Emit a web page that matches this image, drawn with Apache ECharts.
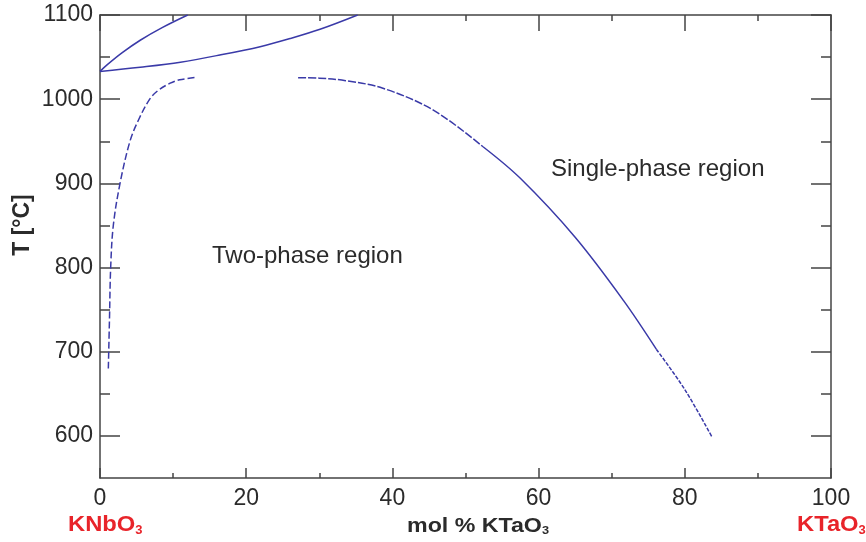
<!DOCTYPE html>
<html>
<head>
<meta charset="utf-8">
<script src="https://cdn.jsdelivr.net/npm/echarts@6/dist/echarts.min.js"></script>
<style>html,body{margin:0;padding:0;background:#fff}#c{width:866px;height:542px}</style>
</head>
<body>
<div id="c"></div>
<script>
// mol % KTaO3 vs temperature (°C)
var upperSolidA = [[0,1033],[1,1041],[3,1055],[5.5,1070],[8.5,1085],[12,1100]];
var upperSolidB = [[0,1033],[5.5,1038],[11,1044],[16.4,1052.5],[21.9,1062.4],[26,1072],[30.1,1083],[35.25,1100]];
var leftDashed = [[1.14,680],[1.3,740],[1.46,800],[1.82,850],[2.74,900],[4.1,950],[5.25,975],[6.8,1000],[7.9,1010],[9.6,1019],[10.9,1023],[13.2,1026]];
var rightDashedTop = [[27.1,1025.5],[30,1025],[33.6,1022],[38.7,1013],[45.6,987],[52.4,943.5]];
var rightSolid = [[52.4,943.5],[57.5,906],[65,836],[71.6,761],[76.1,703]];
var rightDashedBottom = [[76.1,703],[80,655],[83.7,599]];
var xTicks = [0,20,40,60,80,100];
var yTicks = [600,700,800,900,1000,1100];
var yMinorTicks = [650,750,850,950,1050];

var blue = '#3a3aa8';
var axisCol = '#444';
var font = 'Liberation Sans, Arial, sans-serif';
var chart = echarts.init(document.getElementById('c'), null, {renderer:'canvas'});
function lineSeries(data, type, dash){
  return {type:'line', data:data, smooth:0.35, symbol:'none', xAxisIndex:0, yAxisIndex:0,
    lineStyle:{color:blue, width:1.5, type: dash ? dash : type}, silent:true, clip:true};
}
function yAx(pos, ticks, len, showLine, showLabel){
  return {type:'value', min:550, max:1100, position:pos,
    axisLine:{show:showLine, onZero:false, lineStyle:{color:axisCol, width:1.5}},
    axisTick:{inside:true, length:len, customValues:ticks, lineStyle:{color:axisCol, width:1.5}},
    axisLabel:showLabel ? {customValues:ticks, fontSize:23, color:'#2b2b2b', fontFamily:font, margin:7, formatter:function(v){return String(v);}} : {show:false},
    splitLine:{show:false}};
}
chart.setOption({
  animation:false,
  grid:{left:100, right:35, top:15, bottom:64},
  xAxis:[{type:'value', min:0, max:100, interval:20, position:'bottom',
    axisLine:{onZero:false, lineStyle:{color:axisCol, width:1.5}},
    axisTick:{inside:true, length:10, lineStyle:{color:axisCol, width:1.5}},
    minorTick:{show:true, splitNumber:2, length:5, lineStyle:{color:axisCol, width:1.5}},
    axisLabel:{customValues:xTicks, fontSize:23, color:'#2b2b2b', fontFamily:font, margin:9, formatter:function(v){return String(v);}},
    splitLine:{show:false}},
   {type:'value', min:0, max:100, interval:20, position:'top',
    axisLine:{onZero:false, lineStyle:{color:axisCol, width:1.5}},
    axisTick:{inside:true, length:16, lineStyle:{color:axisCol, width:1.5}},
    minorTick:{show:true, splitNumber:2, length:6, lineStyle:{color:axisCol, width:1.5}},
    axisLabel:{show:false}, splitLine:{show:false}}],
  yAxis:[
    yAx('left', yTicks, 20, true, true),
    yAx('right', yTicks, 20, true, false),
    yAx('left', yMinorTicks, 10, false, false),
    yAx('right', yMinorTicks, 10, false, false)
  ],
  series:[
    lineSeries(upperSolidA,'solid'),
    lineSeries(upperSolidB,'solid'),
    lineSeries(leftDashed,'dashed',[7,3]),
    lineSeries(rightDashedTop,'dashed',[8,2]),
    lineSeries(rightSolid,'solid'),
    lineSeries(rightDashedBottom,'dashed',[4,1.5])
  ],
  graphic:[
    {type:'text', x:212, y:256, style:{text:'Two-phase region', fontSize:24, fill:'#2b2b2b', fontFamily:font, verticalAlign:'middle'}},
    {type:'text', x:551, y:169, style:{text:'Single-phase region', fontSize:24, fill:'#2b2b2b', fontFamily:font, verticalAlign:'middle'}},
    {type:'text', x:23, y:225, rotation:Math.PI/2, style:{text:'T [°C]', fontSize:23, fontWeight:'bold', fill:'#2b2b2b', fontFamily:font, align:'center', verticalAlign:'middle'}},
    {type:'text', x:407, y:526, scaleX:1.16, style:{verticalAlign:'middle', rich:{a:{fontSize:20, fontWeight:'bold', fill:'#2b2b2b', fontFamily:font}, s:{fontSize:11, fontWeight:'bold', fill:'#2b2b2b', fontFamily:font, padding:[10,0,0,0]}}, text:'{a|mol % KTaO}{s|3}'}},
    {type:'text', x:68, y:525, scaleX:1.08, style:{verticalAlign:'middle', rich:{a:{fontSize:22, fontWeight:'bold', fill:'#e8242a', fontFamily:font}, s:{fontSize:12, fontWeight:'bold', fill:'#e8242a', fontFamily:font, padding:[12,0,0,0]}}, text:'{a|KNbO}{s|3}'}},
    {type:'text', x:797, y:525, scaleX:1.08, style:{verticalAlign:'middle', rich:{a:{fontSize:22, fontWeight:'bold', fill:'#e8242a', fontFamily:font}, s:{fontSize:12, fontWeight:'bold', fill:'#e8242a', fontFamily:font, padding:[12,0,0,0]}}, text:'{a|KTaO}{s|3}'}}
  ]
});
</script>
</body>
</html>
